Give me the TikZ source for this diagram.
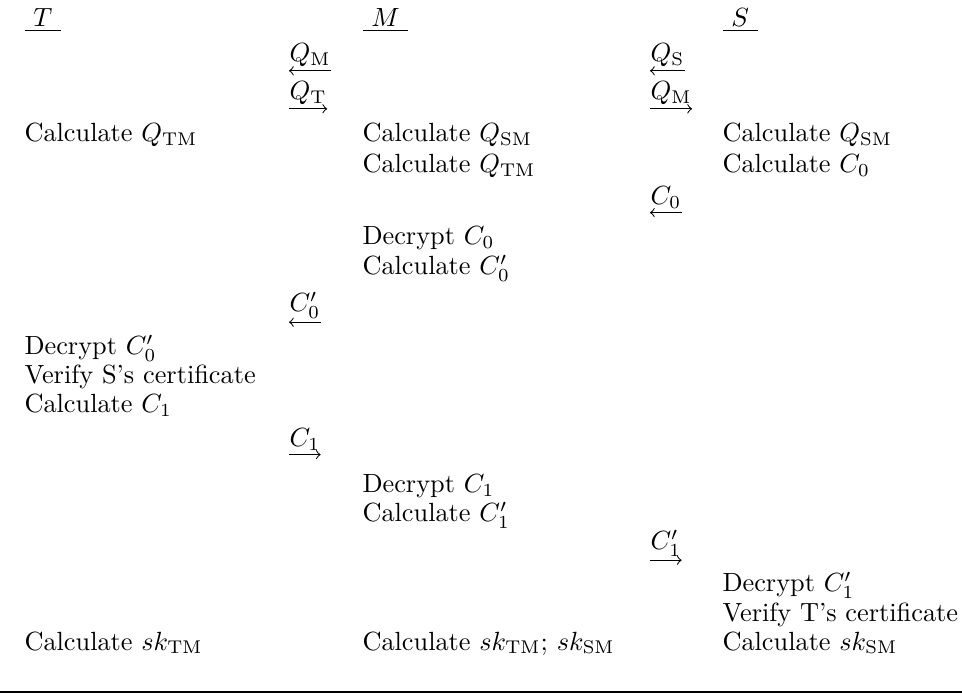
\documentclass[tikz,border=0pt]{standalone}
\usepackage{amsmath}
\usepackage{amssymb}
\usetikzlibrary{positioning}
\tikzset{cell/.style={anchor=base west,inner sep=0pt},
         lbl/.style={anchor=base west,inner sep=0pt},
         msg/.style={->,>=to,shorten >=0pt}}

\begin{document}
\begin{tikzpicture}[x=0.3802pt,y=-0.3802pt]
    \useasboundingbox (0,0) rectangle (962,697);

    % parties
    \node[cell] (T) at (24,27)  {\underline{\ $T$\ }};
    \node[cell] (M) at (362,27) {\underline{\ $M$\ }};
    \node[cell] (S) at (722,27) {\underline{\ $S$\ }};

    % T
    \node[cell] (tQ)   at (24,142) {Calculate $Q_{\mathrm{TM}}$};
    \node[cell] (tDec) at (24,355) {Decrypt $C_0'$};
    \node[cell] (tVer) at (24,384) {Verify S's certificate};
    \node[cell] (tC)   at (24,413) {Calculate $C_1$};
    \node[cell] (tSk)  at (24,650) {Calculate $sk_{\mathrm{TM}}$};

    % M
    \node[cell] (mQs)  at (362,142) {Calculate $Q_{\mathrm{SM}}$};
    \node[cell] (mQt)  at (362,173) {Calculate $Q_{\mathrm{TM}}$};
    \node[cell] (mDa)  at (362,245) {Decrypt $C_0$};
    \node[cell] (mCa)  at (362,275) {Calculate $C_0'$};
    \node[cell] (mDb)  at (362,493) {Decrypt $C_1$};
    \node[cell] (mCb)  at (362,522) {Calculate $C_1'$};
    \node[cell] (mSk)  at (362,650) {Calculate $sk_{\mathrm{TM}}$; $sk_{\mathrm{SM}}$};

    % S
    \node[cell] (sQ)   at (722,142) {Calculate $Q_{\mathrm{SM}}$};
    \node[cell] (sC)   at (722,173) {Calculate $C_0$};
    \node[cell] (sDec) at (722,592) {Decrypt $C_1'$};
    \node[cell] (sVer) at (722,621) {Verify T's certificate};
    \node[cell] (sSk)  at (722,650) {Calculate $sk_{\mathrm{SM}}$};

    % messages T <-> M
    \node[lbl] (aQm) at (289,62)  {$Q_{\mathrm{M}}$};
    \node[lbl] (aQt) at (289,100) {$Q_{\mathrm{T}}$};
    \node[lbl] (aCa) at (289,312) {$C_0'$};
    \node[lbl] (aCb) at (289,447) {$C_1$};
    \draw[msg] ([yshift=-1.2pt]aQm.south east) -- ([yshift=-1.2pt]aQm.south west);
    \draw[msg] ([yshift=-1.2pt]aQt.south west) -- ([yshift=-1.2pt]aQt.south east);
    \draw[msg] ([yshift=-1.2pt]aCa.south east) -- ([yshift=-1.2pt]aCa.south west);
    \draw[msg] ([yshift=-1.2pt]aCb.south west) -- ([yshift=-1.2pt]aCb.south east);

    % messages M <-> S
    \node[lbl] (bQs) at (650,62)  {$Q_{\mathrm{S}}$};
    \node[lbl] (bQm) at (650,100) {$Q_{\mathrm{M}}$};
    \node[lbl] (bCa) at (650,205) {$C_0$};
    \node[lbl] (bCb) at (650,550) {$C_1'$};
    \draw[msg] ([yshift=-1.2pt]bQs.south east) -- ([yshift=-1.2pt]bQs.south west);
    \draw[msg] ([yshift=-1.2pt]bQm.south west) -- ([yshift=-1.2pt]bQm.south east);
    \draw[msg] ([yshift=-1.2pt]bCa.south east) -- ([yshift=-1.2pt]bCa.south west);
    \draw[msg] ([yshift=-1.2pt]bCb.south west) -- ([yshift=-1.2pt]bCb.south east);

    \draw[line width=0.8pt] (0,692) -- (962,692);
\end{tikzpicture}
\end{document}
